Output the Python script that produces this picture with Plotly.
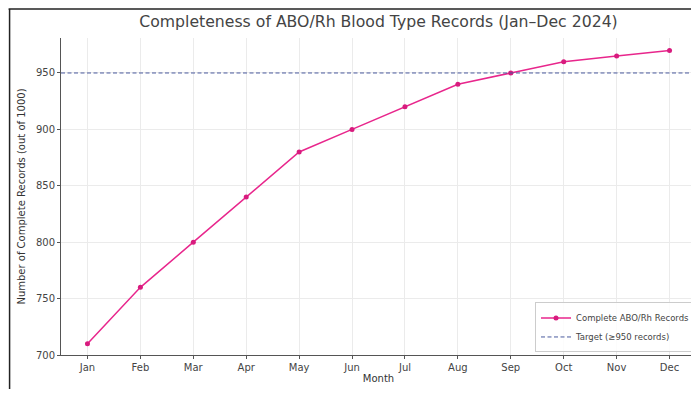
import plotly.graph_objects as go

months = ["Jan", "Feb", "Mar", "Apr", "May", "Jun", "Jul", "Aug", "Sep", "Oct", "Nov", "Dec"]
complete_records = [710, 760, 800, 840, 880, 900, 920, 940, 950, 960, 965, 970]
target_value = 950
y_ticks = [700, 750, 800, 850, 900, 950]

W, H = 691, 381
L, R, T, B = 52.5, 2.5, 30, 34

fig = go.Figure()
fig.add_trace(go.Scatter(
    x=list(range(len(months))), y=complete_records, mode="lines+markers",
    name="Complete ABO/Rh Records",
    line=dict(color="#e8268c", width=1.5),
    marker=dict(color="#d81b7e", size=5),
))
fig.add_trace(go.Scatter(
    x=[-0.5, len(months) - 0.5], y=[target_value, target_value], mode="lines",
    name="Target (≥950 records)",
    line=dict(color="#4a5a9e", width=1, dash="4px,2.5px"),
))

font = "DejaVu Sans, sans-serif"
fig.update_layout(
    width=W, height=H,
    margin=dict(l=L, r=R, t=T, b=B, autoexpand=False),
    paper_bgcolor="white", plot_bgcolor="white",
    font=dict(family=font, color="#333333", size=10),
    title=dict(text="Completeness of ABO/Rh Blood Type Records (Jan–Dec 2024)",
               x=0.5, xref="paper", xanchor="center", y=1 - 14 / H, yanchor="middle",
               font=dict(size=15.7, color="#444444", family=font), automargin=False),
    showlegend=True,
    legend=dict(x=1.0, y=0.008, xanchor="right", yanchor="bottom",
                bgcolor="rgba(255,255,255,0.85)", bordercolor="#cccccc", borderwidth=1,
                font=dict(size=8.5, color="#444444"), itemwidth=30, tracegroupgap=0),
)
fig.update_xaxes(
    range=[-0.5, len(months) - 0.5], tickmode="array",
    tickvals=list(range(len(months))), ticktext=months,
    showgrid=True, gridcolor="#ebebeb", gridwidth=1,
    showline=True, linecolor="#555555", linewidth=1,
    ticks="outside", ticklen=3, tickcolor="#555555",
    title=dict(text="Month", font=dict(size=10), standoff=2),
    tickfont=dict(size=10, color="#444444"), zeroline=False, automargin=False,
)
fig.update_yaxes(
    range=[700, 981], tickmode="array", tickvals=y_ticks,
    showgrid=True, gridcolor="#ebebeb", gridwidth=1,
    showline=True, linecolor="#555555", linewidth=1,
    ticks="outside", ticklen=3, tickcolor="#555555",
    title=dict(text="Number of Complete Records (out of 1000)", font=dict(size=10), standoff=8),
    tickfont=dict(size=10, color="#444444"), zeroline=False, automargin=False,
)

# outer frame of the screenshot (top and left edges)
pw = W - L - R
ph = H - T - B
def px_x(x):
    return (x - L) / pw
def px_y(y):
    return (H - B - y) / ph
fig.add_shape(type="line", xref="paper", yref="paper",
              x0=px_x(0), x1=px_x(W), y0=px_y(1), y1=px_y(1),
              line=dict(color="#222222", width=1.5))
fig.add_shape(type="line", xref="paper", yref="paper",
              x0=px_x(1), x1=px_x(1), y0=px_y(1), y1=px_y(H),
              line=dict(color="#222222", width=1.5))

fig.write_html("out.html")
